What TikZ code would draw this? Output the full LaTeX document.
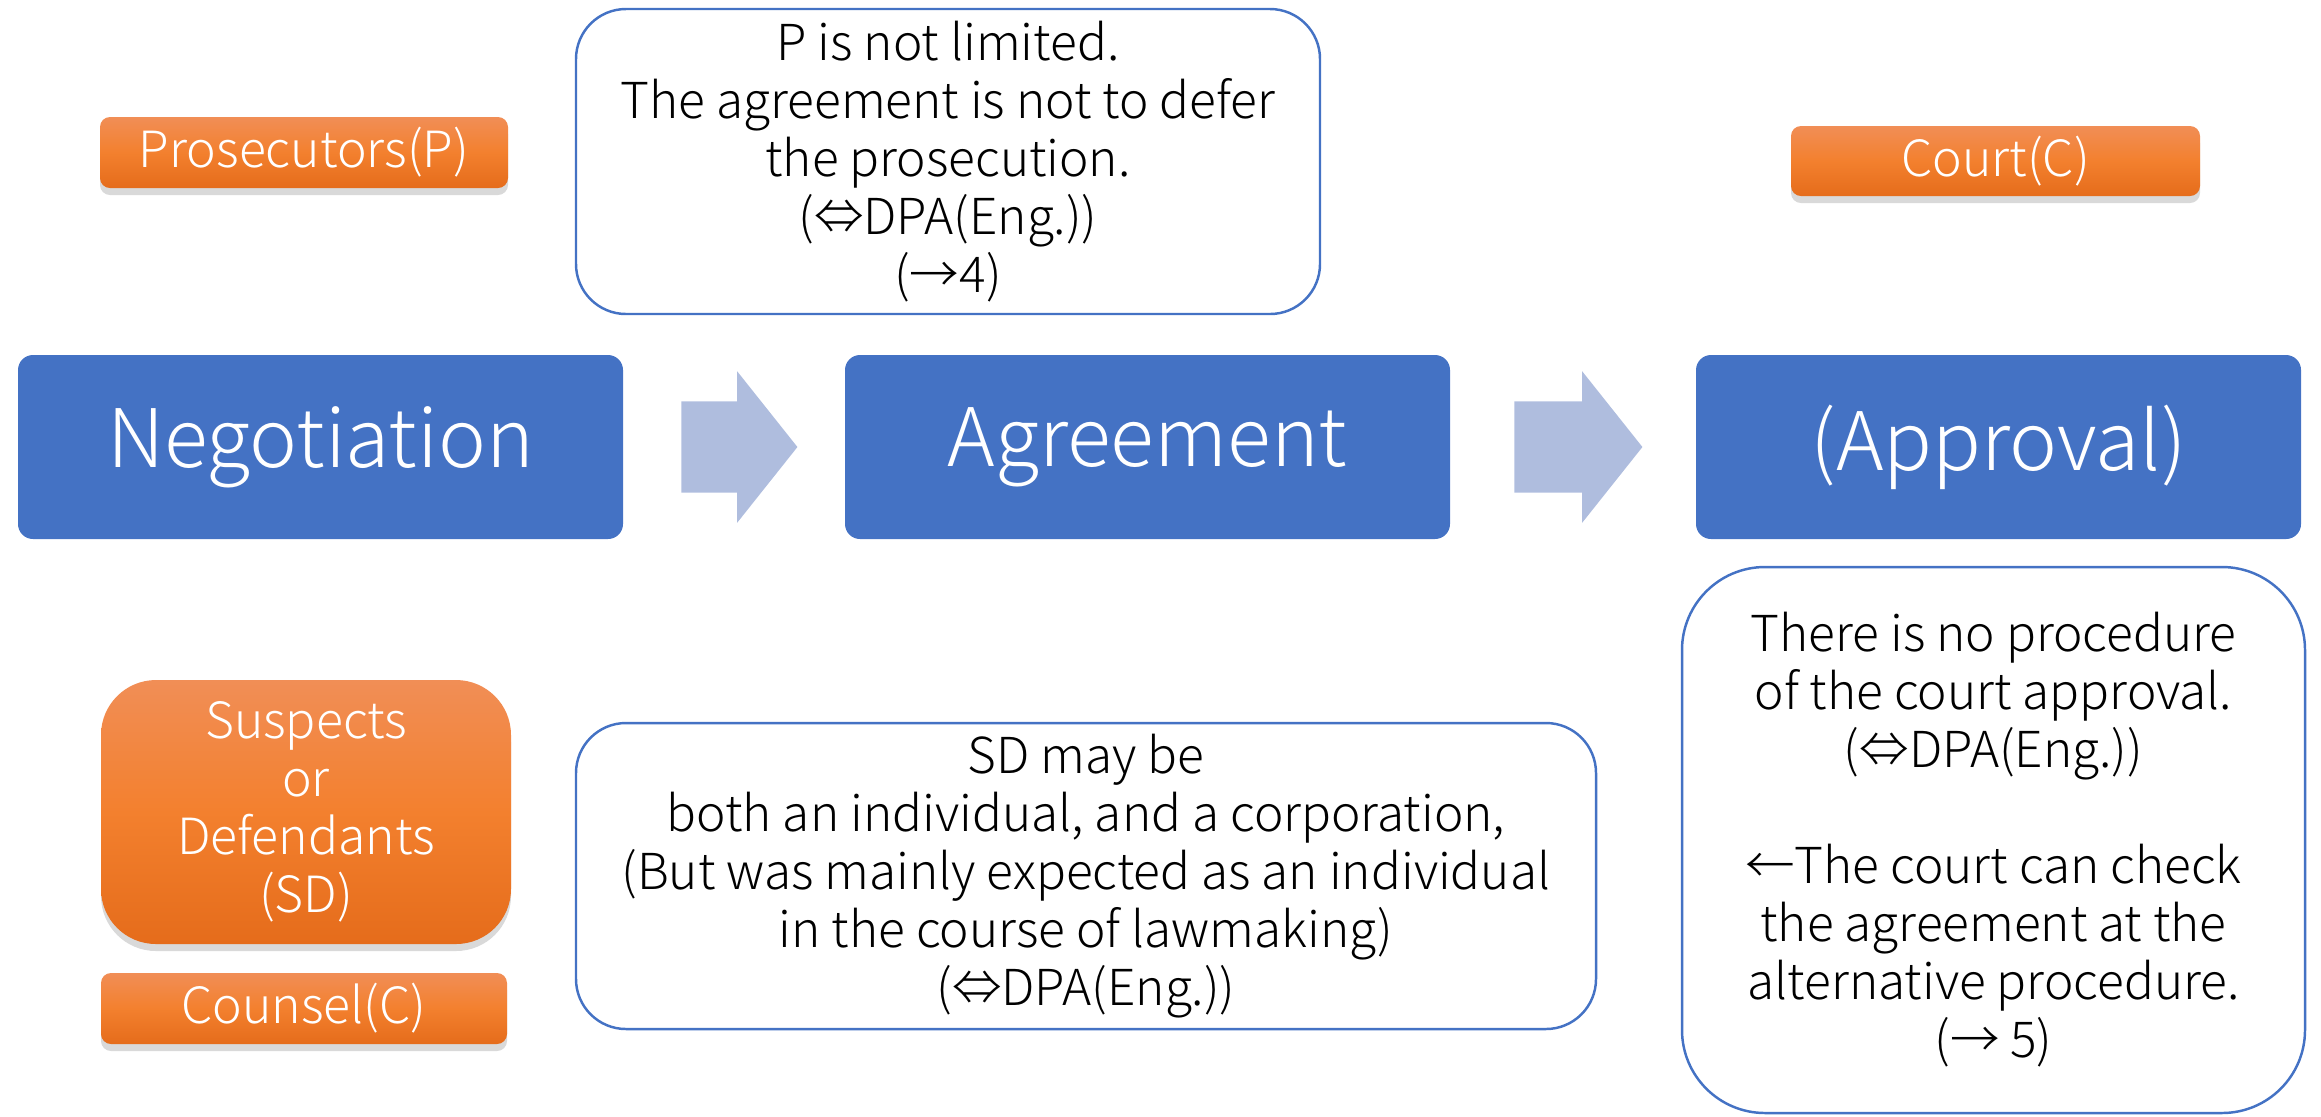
\documentclass[tikz,border=0pt]{standalone}
\usepackage{fontspec}
\IfFontExistsTF{Noto Sans CJK JP Light}
  {\setmainfont{Noto Sans CJK JP Light}}
  {\setmainfont{Noto Sans CJK JP}}
\usetikzlibrary{shapes.arrows,shadows,calc}

\definecolor{stageblue}{RGB}{68,114,196}
\definecolor{arrowblue}{RGB}{175,189,222}
\definecolor{orangetop}{RGB}{241,142,86}
\definecolor{orangemid}{RGB}{243,128,46}
\definecolor{orangebot}{RGB}{229,108,27}

\tikzset{
  stage/.style={fill=stageblue, rounded corners=0.15cm, minimum width=6.05cm,
    minimum height=1.84cm, inner sep=0pt, text=white,
    font=\fontsize{23}{28}\selectfont},
  party/.style={top color=orangetop, bottom color=orangebot, middle color=orangemid,
    rounded corners=0.1cm, inner sep=0pt, text=white, align=center,
    font=\fontsize{14.2}{16.5}\selectfont,
    drop shadow={shadow xshift=0cm, shadow yshift=-0.07cm, opacity=0.3}},
  remark/.style={draw=stageblue, line width=0.7pt, fill=white, rounded corners=0.5cm,
    inner sep=0pt, align=center, font=\fontsize{14.1}{16.5}\selectfont},
  flowarrow/.style={single arrow, fill=arrowblue, anchor=tail, inner xsep=0pt,
    inner ysep=0.45cm, single arrow head extend=0.3cm, single arrow tip angle=103}
}

\begin{document}
\begin{tikzpicture}
\useasboundingbox (0,0) rectangle (23.21,-11.16);

% the three stages
\node[stage] (neg) at (3.205,-4.47) {Negotiation};
\node[stage] (agr) at (11.475,-4.47) {Agreement};
\node[stage] (appr) at (19.985,-4.47) {(Approval)};

\node[flowarrow, minimum height=1.16cm] (ar1) at ($(neg.east)+(0.57,0)$) {};
\node[flowarrow, minimum height=1.28cm] (ar2) at ($(agr.east)+(0.63,0)$) {};

% parties
\node[party, minimum width=4.08cm, minimum height=0.71cm] (pros) at (3.04,-1.525) {Prosecutors(P)};
\node[party, minimum width=4.09cm, minimum height=0.70cm] (court) at (19.955,-1.61) {Court(C)};
\node[party, rounded corners=0.55cm, minimum width=4.10cm, minimum height=2.64cm] (sd) at (3.06,-8.12)
  {Suspects\\or\\Defendants\\(SD)};
\node[party, minimum width=4.06cm, minimum height=0.71cm] (counsel) at (3.04,-10.085) {Counsel(C)};

% remarks
\node[remark, minimum width=7.44cm, minimum height=3.05cm] (ptext) at (9.48,-1.615)
  {P is not limited.\\The agreement is not to defer\\the prosecution.\\(⇔DPA(Eng.))\\(→4)};
\node[remark, minimum width=10.20cm, minimum height=3.06cm] (sdtext) at (10.86,-8.76)
  {SD may be\\both an individual, and a corporation,\\(But was mainly expected as an individual\\in the course of lawmaking)\\(⇔DPA(Eng.))};
\node[remark, rounded corners=0.83cm, minimum width=6.23cm, minimum height=5.46cm] (ctext) at (19.935,-8.40)
  {There is no procedure\\of the court approval.\\(⇔DPA(Eng.))\\[16.5pt]←The court can check\\the agreement at the\\alternative procedure.\\(→ 5)};
\end{tikzpicture}
\end{document}
